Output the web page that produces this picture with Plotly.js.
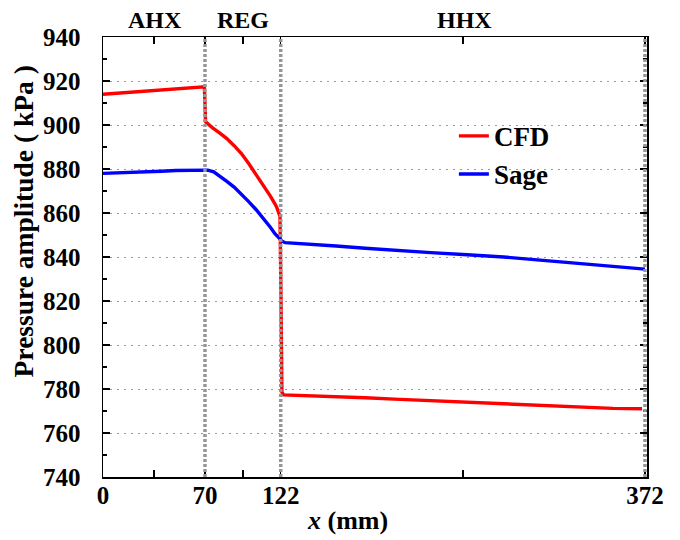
<!DOCTYPE html>
<html>
<head>
<meta charset="utf-8">
<script src="https://cdn.plot.ly/plotly-3.0.1.min.js"></script>
<style>html,body{margin:0;padding:0;background:#fff;}#chart{width:680px;height:540px;}</style>
</head>
<body>
<div id="chart"></div>
<script>
// CFD series
const cfdX = [0, 10, 20, 30, 40, 50, 60, 69.6, 70.4, 75, 80, 85, 90, 95, 100, 105, 110, 115, 119, 121.5, 122.2, 122.8, 124, 140, 160, 180, 200, 225, 250, 275, 300, 325, 350, 370];
const cfdY = [914.0, 914.5, 915.0, 915.5, 915.9, 916.4, 916.9, 917.4, 901.5, 898.8, 896.4, 893.8, 890.6, 887.0, 882.5, 877.6, 872.6, 867.6, 863.0, 858.5, 820, 778.5, 777.3, 777.0, 776.5, 776.0, 775.4, 774.7, 774.0, 773.2, 772.5, 771.8, 771.2, 771.0];
// Sage series
const sageX = [0, 10, 20, 30, 40, 50, 60, 70, 72, 76, 80, 85, 90, 95, 100, 105, 110, 115, 118, 121.5, 123, 125, 140, 160, 180, 200, 225, 250, 275, 300, 325, 350, 372];
const sageY = [878.0, 878.2, 878.6, 878.5, 879.0, 879.3, 879.5, 879.6, 879.5, 878.7, 876.9, 874.4, 871.8, 868.7, 865.2, 861.6, 857.6, 853.4, 850.6, 848.4, 847.2, 846.5, 846.0, 845.0, 844.0, 843.0, 842.0, 841.0, 840.0, 838.6, 837.2, 835.9, 834.5];
// Section boundaries and labels
const boundaries = [70, 122, 372];
const sectionNames = ['AHX', 'REG', 'HHX'];
const sectionCenters = [35.5, 96, 248];
const xTickVals = [0, 70, 122, 372];
const xMinorVals = [35, 96, 247];
const xTitle = '<i>x</i> (mm)';
const yTitle = 'Pressure amplitude ( kPa )';

const serif = 'Liberation Serif, Times New Roman, serif';

const traces = [
  {x: cfdX, y: cfdY, name: 'CFD', type: 'scatter', mode: 'lines', line: {color: '#ff0000', width: 3.4}},
  {x: sageX, y: sageY, name: 'Sage', type: 'scatter', mode: 'lines', line: {color: '#0000ff', width: 3.4}}
];

const shapes = boundaries.map(b => ({
  type: 'line', xref: 'x', yref: 'paper', x0: b, x1: b, y0: 0, y1: 1,
  line: {color: '#969696', width: 3.5, dash: '3px,2px'}, layer: 'above'
}));

const annotations = sectionNames.map((n, i) => ({
  text: n, x: sectionCenters[i], xref: 'x', y: 1.039, yref: 'paper',
  xanchor: 'center', yanchor: 'middle', showarrow: false,
  font: {family: serif, size: 24, color: '#000', weight: 'bold'}
}));
annotations.push({
  text: xTitle, x: 0.45, xref: 'paper', y: -0.098, yref: 'paper',
  xanchor: 'center', yanchor: 'middle', showarrow: false,
  font: {family: serif, size: 26, color: '#000', weight: 'bold'}
});
annotations.push({
  text: yTitle, x: -0.146, xref: 'paper', y: 0.58, yref: 'paper', textangle: -90,
  xanchor: 'center', yanchor: 'middle', showarrow: false,
  font: {family: serif, size: 27.5, color: '#000', weight: 'bold'}
});

const layout = {
  width: 680, height: 540,
  margin: {l: 103, r: 33, t: 37, b: 63},
  paper_bgcolor: '#fff', plot_bgcolor: '#fff',
  showlegend: true,
  legend: {x: 0.645, y: 0.83, xanchor: 'left', yanchor: 'top', bgcolor: 'rgba(0,0,0,0)',
           font: {family: serif, size: 27, color: '#000', weight: 'bold'}, tracegroupgap: 0},
  xaxis: {
    range: [0, 373.4], tickmode: 'array', tickvals: xTickVals, ticktext: xTickVals.map(String),
    ticks: 'inside', ticklen: 7, tickwidth: 1.5, tickcolor: '#000',
    showline: true, linecolor: '#000', linewidth: 1.5, mirror: 'ticks',
    showgrid: false, zeroline: false,
    minor: {tickmode: 'array', tickvals: xMinorVals, ticks: 'inside', ticklen: 7, tickwidth: 1.5, tickcolor: '#000', showgrid: false},
    tickfont: {family: serif, size: 25, color: '#000', weight: 'bold'},
    ticklabelstandoff: -5
  },
  yaxis: {
    range: [740, 940], tickmode: 'linear', tick0: 740, dtick: 20,
    ticks: 'inside', ticklen: 7, tickwidth: 1.5, tickcolor: '#000',
    showline: true, linecolor: '#000', linewidth: 1.5, mirror: 'ticks',
    showgrid: true, gridcolor: '#9a9a9a', gridwidth: 1, griddash: '2px,5px', zeroline: false,
    minor: {dtick: 10, ticks: 'inside', ticklen: 4, tickwidth: 1.5, tickcolor: '#000', showgrid: false},
    tickfont: {family: serif, size: 25, color: '#000', weight: 'bold'},
    ticklabelstandoff: 16
  },
  shapes: shapes,
  annotations: annotations
};

Plotly.newPlot('chart', traces, layout, {staticPlot: true, displayModeBar: false});
</script>
</body>
</html>
